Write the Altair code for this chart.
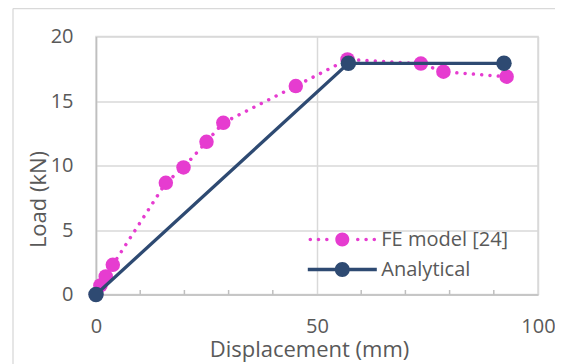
import altair as alt
import pandas as pd

# ---------------- data ----------------
fe_x = [0, 1.0, 2.2, 3.8, 15.8, 19.8, 25.0, 28.8, 45.2, 56.9, 73.5, 78.6, 92.9]
fe_y = [0, 0.7, 1.4, 2.3, 8.66, 9.85, 11.84, 13.31, 16.16, 18.22, 17.9, 17.27, 16.88]
an_x = [0, 57.1, 92.3]
an_y = [0, 17.92, 17.92]
x_tick_values = [0, 50, 100]
y_tick_values = [0, 5, 10, 15, 20]
minor_tick_values = [10, 20, 30, 40, 60, 70, 80, 90]
series_names = ["FE model [24]", "Analytical"]

PINK = "#e63cd0"
NAVY = "#2e4a72"
TEXT = "#595959"
FONT = "Open Sans"

fe = pd.DataFrame({"x": fe_x, "y": fe_y})
an = pd.DataFrame({"x": an_x, "y": an_y})
minor = pd.DataFrame({"x": minor_tick_values})
leg = pd.DataFrame({"series": series_names, "x": [0, 0], "y": [0, 0]})

W, H = 442, 258


def circ(cx, r):
    return f"M{cx + r},0A{r},{r},0,1,1,{cx - r},0A{r},{r},0,1,1,{cx + r},0Z"


def rect(x0, x1, h):
    return f"M{x0},{-h}L{x1},{-h}L{x1},{h}L{x0},{h}Z"


fe_path = circ(0, 1.0) + "".join(circ(s * d, 0.25) for d in (2.21, 3.4, 4.57) for s in (-1, 1))
an_path = circ(0, 1.07) + rect(-4.93, -0.95, 0.236) + rect(0.95, 4.93, 0.236)

xscale = alt.Scale(domain=[0, 100], nice=False, zero=False)
yscale = alt.Scale(domain=[0, 20], nice=False, zero=False)

X = alt.X(
    "x:Q",
    scale=xscale,
    axis=alt.Axis(
        values=x_tick_values,
        title="Displacement (mm)",
        grid=True,
        ticks=False,
        labelFlush=False,
        labelPadding=38.3,
        labelBaseline="alphabetic",
        titleX=213,
        titleY=62,
        titleAlign="center",
        titleBaseline="alphabetic",
    ),
)
Y = alt.Y(
    "y:Q",
    scale=yscale,
    axis=alt.Axis(
        values=y_tick_values,
        title="Load (kN)",
        grid=True,
        ticks=False,
        labelFlush=False,
        labelPadding=23,
        titleX=-58,
        titleY=162.5,
        titleAlign="center",
        titleBaseline="middle",
        titleAngle=270,
    ),
)

frame_data = pd.DataFrame({"a": [0]})
frame_top = alt.Chart(frame_data).mark_rule(color="#d9d9d9", strokeWidth=1.3).encode(
    x=alt.value(-83), x2=alt.value(600), y=alt.value(-28)
)
frame_left = alt.Chart(frame_data).mark_rule(color="#d9d9d9", strokeWidth=1.3).encode(
    x=alt.value(-83), y=alt.value(-28), y2=alt.value(420)
)

ticks = alt.Chart(minor).mark_rule(color="#bfbfbf", strokeWidth=1.5).encode(
    x=X, y=alt.value(H), y2=alt.value(H - 4.5)
)

fe_line = alt.Chart(fe).mark_line(
    color=PINK, strokeWidth=3.5, strokeDash=[0.01, 8.3], strokeCap="round"
).encode(x=X, y=Y)
fe_pts = alt.Chart(fe).mark_point(filled=True, color=PINK, size=210, opacity=1).encode(x=X, y=Y)
an_line = alt.Chart(an).mark_line(color=NAVY, strokeWidth=3.3).encode(x=X, y=Y)
an_pts = alt.Chart(an).mark_point(filled=True, color=NAVY, size=240, opacity=1).encode(x=X, y=Y)

LEG = alt.Legend(
    title=None,
    orient="none",
    legendX=236.3,
    legendY=193,
    padding=0,
    labelFont=FONT,
    labelFontSize=20,
    labelColor=TEXT,
    labelOffset=29,
    symbolOffset=0,
    rowPadding=10,
    symbolStrokeWidth=0,
    symbolSize=196,
)
legend_layer = alt.Chart(leg).transform_filter("false").mark_point(
    filled=True, size=196, opacity=1
).encode(
    x=X,
    y=Y,
    color=alt.Color("series:N", scale=alt.Scale(domain=series_names, range=[PINK, NAVY]), legend=LEG),
    shape=alt.Shape("series:N", scale=alt.Scale(domain=series_names, range=[fe_path, an_path]), legend=LEG),
)

chart = (
    alt.layer(frame_top, frame_left, ticks, fe_line, fe_pts, an_line, an_pts, legend_layer)
    .properties(
        width=W,
        height=H,
        autosize=alt.AutoSizeParams(type="none"),
        padding={"left": 88, "top": 28.5, "right": 17, "bottom": 69.5},
        background="white",
    )
    .configure_view(stroke="#d9d9d9", strokeWidth=1.5)
    .configure_axis(
        gridColor="#d9d9d9",
        gridWidth=1.5,
        domainColor="#bfbfbf",
        domainWidth=1.5,
        labelFont=FONT,
        labelFontSize=20,
        labelColor=TEXT,
        titleFont=FONT,
        titleFontSize=22,
        titleColor=TEXT,
        titleFontWeight="normal",
    )
)

chart.save("out.html", embed_options={"renderer": "svg", "actions": False})
